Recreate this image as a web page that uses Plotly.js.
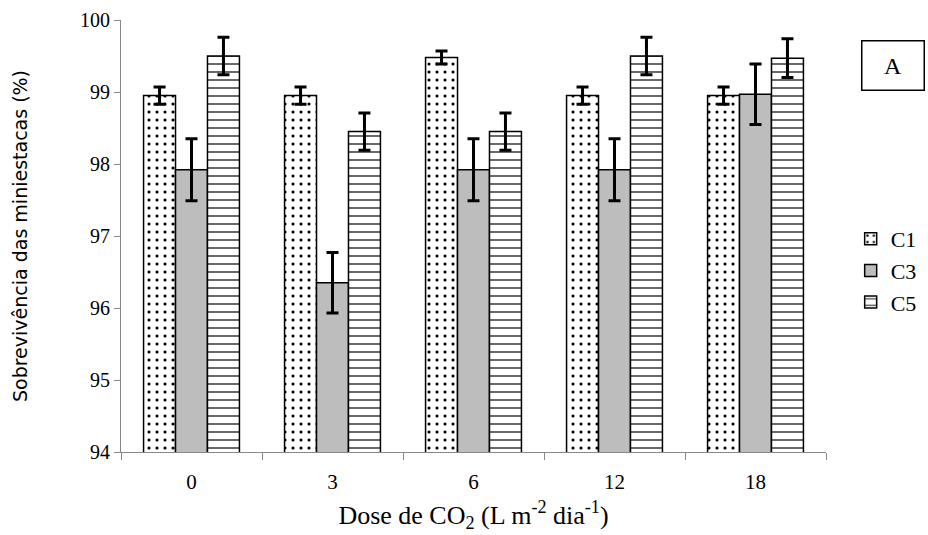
<!DOCTYPE html>
<html>
<head>
<meta charset="utf-8">
<script src="https://cdn.plot.ly/plotly-3.0.1.min.js"></script>
<style>html,body{margin:0;padding:0;background:#fff;}#chart{width:928px;height:535px;}</style>
</head>
<body>
<div id="chart"></div>
<script>
const categories = ["0", "3", "6", "12", "18"];
const c1Values = [98.95, 98.95, 99.48, 98.95, 98.95];
const c1Errors = [0.12, 0.12, 0.09, 0.12, 0.12];
const c3Values = [97.92, 96.35, 97.92, 97.92, 98.97];
const c3Errors = [0.43, 0.42, 0.43, 0.43, 0.42];
const c5Values = [99.5, 98.45, 98.45, 99.5, 99.47];
const c5Errors = [0.26, 0.26, 0.26, 0.26, 0.27];
const seriesNames = ["C1", "C3", "C5"];

const errStyle = (arr) => ({type: 'data', array: arr, visible: true, color: '#000', thickness: 3, width: 6});
const line = {color: '#000', width: 1.5};

const traces = [
  {type: 'bar', name: seriesNames[0], x: categories, y: c1Values, error_y: errStyle(c1Errors),
   marker: {color: '#fff', line: line, pattern: {shape: '.', fgcolor: '#000', bgcolor: '#fff', size: 8, solidity: 0.12}}},
  {type: 'bar', name: seriesNames[1], x: categories, y: c3Values, error_y: errStyle(c3Errors),
   marker: {color: '#bdbdbd', line: line}},
  {type: 'bar', name: seriesNames[2], x: categories, y: c5Values, error_y: errStyle(c5Errors),
   marker: {color: '#fff', line: line, pattern: {shape: '-', fgcolor: '#444', bgcolor: '#fff', size: 8, solidity: 0.2}}}
];

const serif = 'Liberation Serif, Times New Roman, serif';
const layout = {
  width: 928, height: 535,
  margin: {l: 121, r: 102, t: 20, b: 83, autoexpand: false},
  paper_bgcolor: '#fff', plot_bgcolor: '#fff',
  barmode: 'group', bargap: 0.32, bargroupgap: 0,
  font: {family: serif, size: 20, color: '#000'},
  xaxis: {
    type: 'category', showgrid: false, zeroline: false,
    showline: true, linecolor: '#888', linewidth: 1,
    ticks: 'outside', tickson: 'boundaries', ticklen: 7, tickcolor: '#888',
    ticklabelstandoff: 11,
    tickfont: {family: serif, size: 21},
    title: {text: 'Dose de CO<sub>2</sub> (L m<sup>-2</sup> dia<sup>-1</sup>)', font: {family: serif, size: 26}, standoff: 12}
  },
  yaxis: {
    range: [94, 100], dtick: 1, showgrid: false, zeroline: false,
    showline: true, linecolor: '#888', linewidth: 1,
    ticks: 'outside', ticklen: 6, tickcolor: '#888',
    tickfont: {family: serif, size: 20},
    title: {text: 'Sobrevivência das miniestacas (%)', font: {family: 'DejaVu Sans, Verdana, sans-serif', size: 19}, standoff: 47}
  },
  showlegend: true,
  legend: {x: 1.035, xanchor: 'left', y: 0.42, yanchor: 'middle', font: {family: serif, size: 22}, tracegroupgap: 6, itemwidth: 30, bgcolor: 'rgba(0,0,0,0)'},
  annotations: [{
    xref: 'paper', yref: 'paper', x: 1.095, y: 0.894, xanchor: 'center', yanchor: 'middle',
    text: 'A', showarrow: false, font: {family: serif, size: 24},
    bordercolor: '#000', borderwidth: 1.5, borderpad: 1, bgcolor: '#fff', width: 59, height: 46
  }]
};

Plotly.newPlot('chart', traces, layout, {displayModeBar: false, staticPlot: true});
</script>
</body>
</html>
